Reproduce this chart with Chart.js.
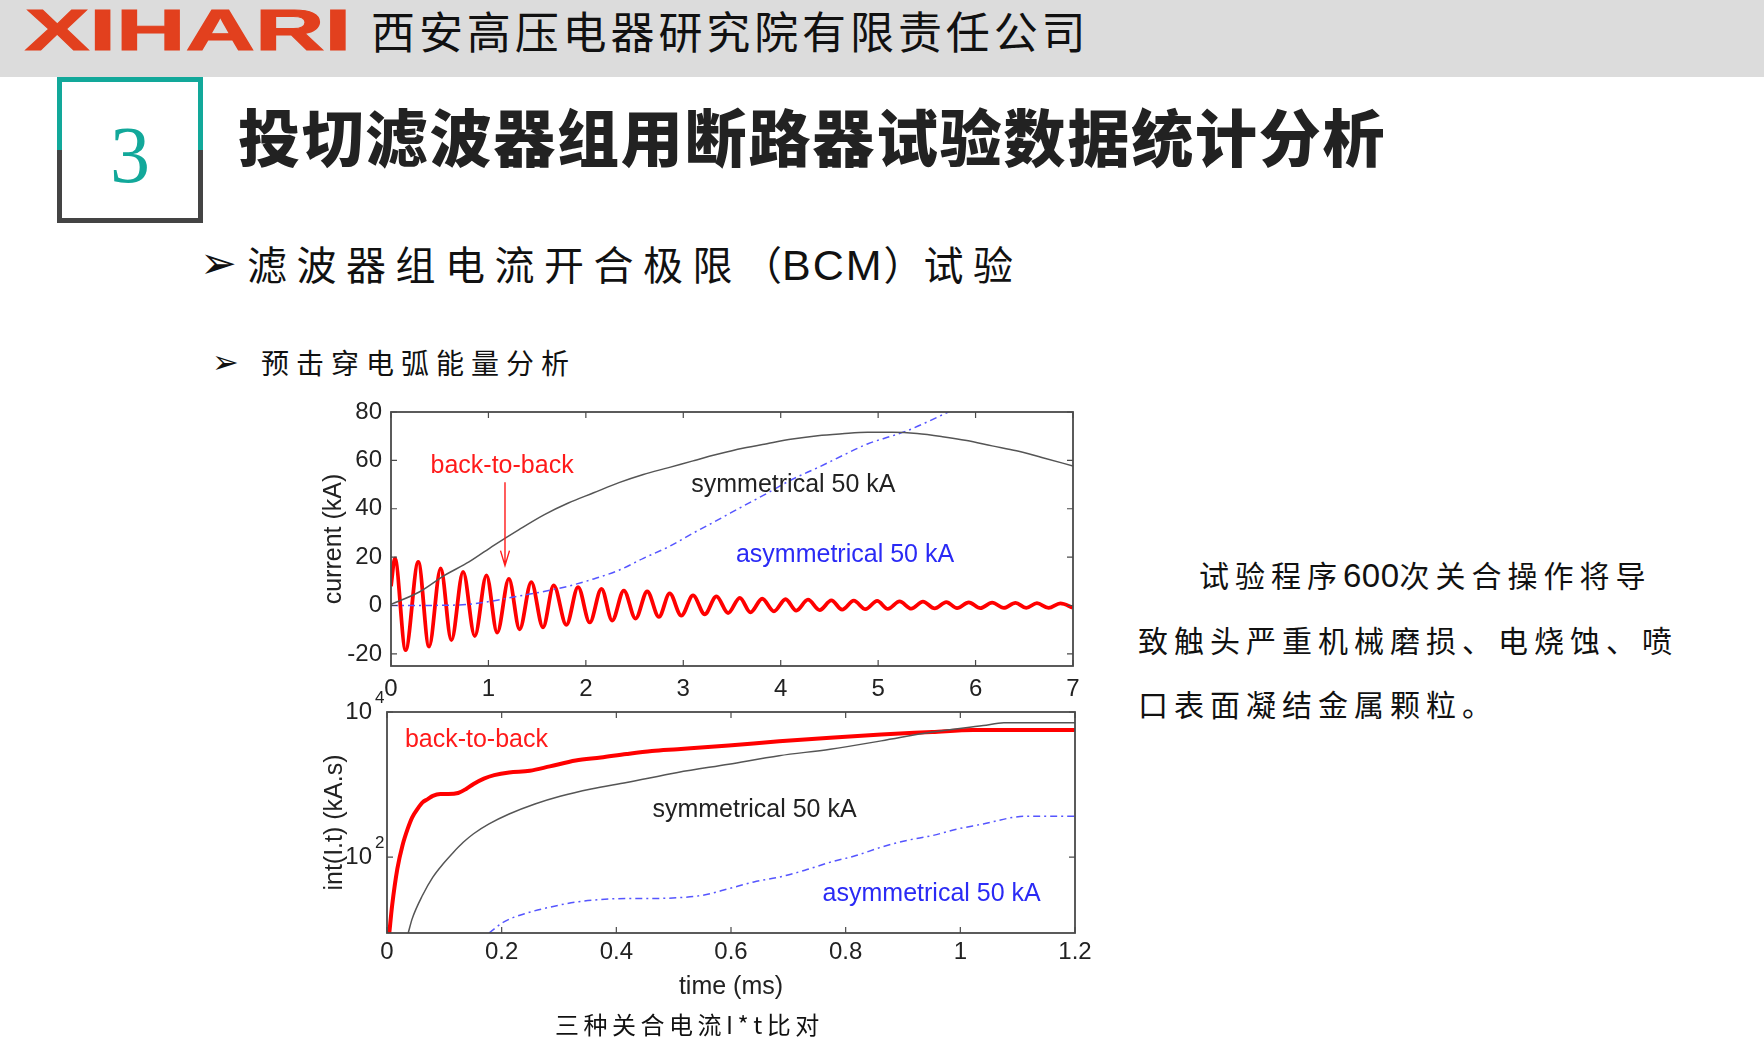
<!DOCTYPE html>
<html><head><meta charset="utf-8">
<script src="https://cdn.jsdelivr.net/npm/chart.js@4.4.1/dist/chart.umd.min.js"></script>
<style>
html,body{margin:0;padding:0;background:#fff;width:1764px;height:1041px;overflow:hidden;position:relative;font-family:"Noto Sans CJK SC",sans-serif;color:#111}
.abs{position:absolute;white-space:nowrap}
#hdr{left:0;top:0;width:1764px;height:77px;background:#dcdcdc}
#logo{left:25px;top:1px;font-family:"Liberation Sans",Arial,sans-serif;font-weight:700;font-size:58px;line-height:58px;color:#e2401e;transform:scaleX(1.66);transform-origin:0 0;letter-spacing:0px;-webkit-text-stroke:1px #e2401e}
#company{left:371px;top:8px;font-size:44px;line-height:44px;letter-spacing:3.9px;color:#111}
#box{left:57px;top:77px;width:146px;height:146px;background:linear-gradient(to bottom,#12a89a 0,#12a89a 73px,#444 73px,#444 146px)}
#boxin{left:62px;top:82px;width:136px;height:136px;background:#fff}
#num{left:62px;top:82px;width:136px;height:146px;text-align:center;font-family:"Liberation Serif",serif;font-size:80px;line-height:146px;color:#12a89a}
#title{left:238px;top:104px;font-size:62px;line-height:62px;font-weight:900;letter-spacing:1.8px;color:#222}
.arr{font-family:"DejaVu Sans",sans-serif}
#sub1a{left:200px;top:238px;font-size:44px;line-height:50px}
#sub1{left:247px;top:243px;font-size:40px;line-height:40px;letter-spacing:9.5px}
#sub1 .par{letter-spacing:0}
#sub1 .lat{font-family:"Liberation Sans",Arial,sans-serif;font-size:43px;letter-spacing:2px}
#sub2a{left:212px;top:343px;font-size:32px;line-height:38px}
#sub2{left:261px;top:348px;font-size:28px;line-height:28px;letter-spacing:7px}
.para{font-size:30px;line-height:30px;letter-spacing:6px}
.para .lat{font-family:"Liberation Sans",Arial,sans-serif;font-size:33px;letter-spacing:0.5px}
#p1{left:1199px;top:559px}
#p2{left:1138px;top:624px}
#p3{left:1138px;top:688px}
#cap{left:555px;top:1012px;font-size:24px;line-height:24px;letter-spacing:4.5px}
#c1{position:absolute;left:290px;top:382px}
#c2{position:absolute;left:290px;top:680px}
</style></head>
<body>
<div id="hdr" class="abs"></div>
<div id="logo" class="abs">XIHARI</div>
<div id="company" class="abs">西安高压电器研究院有限责任公司</div>
<div id="box" class="abs"></div>
<div id="boxin" class="abs"></div>
<div id="num" class="abs">3</div>
<div id="title" class="abs">投切滤波器组用断路器试验数据统计分析</div>
<div id="sub1a" class="abs arr">➢</div>
<div id="sub1" class="abs">滤波器组电流开合极限<span class="par">（</span><span class="lat">BCM</span><span class="par">）</span>试验</div>
<div id="sub2a" class="abs arr">➢</div>
<div id="sub2" class="abs">预击穿电弧能量分析</div>
<div id="p1" class="abs para">试验程序<span class="lat">600</span>次关合操作将导</div>
<div id="p2" class="abs para">致触头严重机械磨损、电烧蚀、喷</div>
<div id="p3" class="abs para">口表面凝结金属颗粒。</div>
<canvas id="c1" width="813" height="323"></canvas>
<canvas id="c2" width="815" height="330"></canvas>
<div id="cap" class="abs">三种关合电流I*t比对</div>
<script>
// ---------- data: top panel (current vs time, ms) ----------
const topXTicks = [0,1,2,3,4,5,6,7];
const topYTicks = [-20,0,20,40,60,80];
const symT = [0,0.29,0.55,0.8,1.06,1.31,1.57,1.82,2.08,2.34,2.59,2.85,3.1,3.36,3.61,3.87,4.12,4.38,4.63,4.89,5.15,5.4,5.66,5.91,6.17,6.42,6.68,7];
const symI = [0.5,5.6,12.5,18,25,31.3,37.5,42.4,46.6,50.8,54.2,57,59.8,62.6,65,67,68.8,70.2,71,71.6,71.6,71.1,69.8,68.2,66,64,61.2,57.7];
const asymT = [0,0.55,0.8,1.06,1.31,1.57,1.82,2.08,2.34,2.59,2.85,3.1,3.36,3.61,3.87,4.12,4.38,4.63,4.89,5.15,5.3,5.5,5.76,5.9];
const asymI = [0,0.1,0.5,2,3.9,5.8,8,11,14.6,19.5,24.3,29.9,35.5,41,46.6,52.2,57,61.9,66.8,70.2,72.3,75.8,80.7,83];
const b2bT = [0,0.04,0.15,0.28,0.39,0.51,0.62,0.74,0.86,0.98,1.09,1.21,1.32,1.44,1.56,1.67,1.80,1.92,2.04,2.16,2.27,2.39,2.51,2.63,2.75,2.86,2.98,3.10,3.22,3.34,3.46,3.58,3.69,3.81,3.93,4.05,4.16,4.28,4.40,4.52,4.63,4.75,4.87,4.99,5.10,5.22,5.34,5.46,5.58,5.70,5.81,5.93,6.05,6.17,6.29,6.41,6.52,6.63,6.75,6.87,7.0];
const b2bI = [8,19.5,-18.4,18,-17,15.3,-14.3,13.9,-12.6,12.5,-11.2,11,-9.8,9.7,-9.0,8.3,-8.0,7.6,-7.0,6.9,-6.2,6.2,-5.4,5.8,-4.7,5.0,-4.2,4.2,-3.6,3.8,-3.1,3.2,-2.8,2.8,-2.4,2.6,-2.1,2.4,-1.9,2.1,-1.7,2.0,-1.5,1.9,-1.4,1.7,-1.3,1.6,-1.2,1.4,-1.1,1.3,-1.1,1.2,-1.0,1.1,-1.0,1.0,-1.0,0.9,-0.9];

// ---------- data: bottom panel (integral of I.t, log) ----------
const botXTicks = [0,0.2,0.4,0.6,0.8,1,1.2];
const botXLabels = ['0','0.2','0.4','0.6','0.8','1','1.2'];
const botYTicks = [100,10000];
const botYExp = ['2','4'];
const b2bIntT = [0.004,0.009,0.018,0.027,0.036,0.044,0.053,0.062,0.071,0.08,0.093,0.107,0.124,0.138,0.151,0.169,0.187,0.213,0.249,0.284,0.329,0.373,0.418,0.462,0.507,0.596,0.684,0.773,0.862,0.951,1.022,1.2];
const b2bIntV = [9,21.7,69,145,245,354,460,569,630,700,740,740,765,870,1020,1210,1350,1470,1550,1780,2140,2360,2640,2900,3070,3450,3950,4430,4900,5300,5650,5650];
const symIntT = [0.037,0.044,0.062,0.08,0.098,0.116,0.133,0.151,0.178,0.213,0.258,0.302,0.356,0.418,0.507,0.596,0.684,0.773,0.862,0.951,1.04,1.076,1.2];
const symIntV = [9,14.2,29.8,53,81,117,160,210,287,393,540,690,870,1070,1470,1910,2500,3070,4000,5300,6500,7100,7100];
const asymIntT = [0.178,0.204,0.24,0.284,0.329,0.373,0.418,0.462,0.507,0.551,0.596,0.64,0.684,0.729,0.773,0.818,0.862,0.907,0.951,0.996,1.04,1.093,1.111,1.2];
const asymIntV = [9,12.8,16.6,20.4,24,26,26.9,26.9,27.6,29.8,36.7,45.5,53,66,85,105,137,170,198,245,287,354,366,366];

const FF = '"Liberation Sans", Arial, sans-serif';
const pts = (t, v) => t.map((x, i) => ({x, y: v[i]}));

function framePlugin(cfg) {
  return {
    id: 'frame_' + cfg.name,
    afterDatasetsDraw(chart) {
      const {ctx, chartArea: {left, right, top, bottom}} = chart;
      const xs = chart.scales.x, ys = chart.scales.y;
      ctx.save();
      ctx.strokeStyle = '#4a4a4a';
      ctx.lineWidth = 1.2;
      ctx.beginPath();
      const L = 6;
      for (const v of cfg.xTicks) { const p = xs.getPixelForValue(v); ctx.moveTo(p, bottom); ctx.lineTo(p, bottom - L); ctx.moveTo(p, top); ctx.lineTo(p, top + L); }
      for (const v of cfg.yTicks) { const p = ys.getPixelForValue(v); ctx.moveTo(left, p); ctx.lineTo(left + L, p); ctx.moveTo(right, p); ctx.lineTo(right - L, p); }
      ctx.stroke();
      ctx.lineWidth = 1.8;
      ctx.strokeRect(left, top, right - left, bottom - top);
      // text annotations
      ctx.font = '25px ' + FF;
      ctx.textAlign = 'center';
      ctx.textBaseline = 'middle';
      for (const a of cfg.notes) {
        ctx.fillStyle = a.color;
        ctx.fillText(a.text, xs.getPixelForValue(a.x), ys.getPixelForValue(a.y));
      }
      if (cfg.arrow) {
        const ax = xs.getPixelForValue(cfg.arrow.x), y0 = ys.getPixelForValue(cfg.arrow.y0), y1 = ys.getPixelForValue(cfg.arrow.y1);
        ctx.strokeStyle = '#ff1a1a'; ctx.lineWidth = 1.4;
        ctx.beginPath(); ctx.moveTo(ax, y0); ctx.lineTo(ax, y1);
        ctx.moveTo(ax - 4.5, y1 - 15); ctx.lineTo(ax, y1); ctx.lineTo(ax + 4.5, y1 - 15);
        ctx.stroke();
      }
      if (cfg.expLabels) {
        ctx.fillStyle = '#222';
        for (let i = 0; i < cfg.yTicks.length; i++) {
          const p = ys.getPixelForValue(cfg.yTicks[i]);
          ctx.font = '24px ' + FF; ctx.textAlign = 'right'; ctx.textBaseline = 'middle';
          ctx.fillText('10', left - 15, p);
          ctx.font = '17px ' + FF; ctx.textAlign = 'left';
          ctx.fillText(cfg.expLabels[i], left - 12, p - 14);
        }
      }
      ctx.restore();
    }
  };
}

const tickFont = {family: FF, size: 24};
const titleFont = {family: FF, size: 25};

new Chart(document.getElementById('c1'), {
  type: 'line',
  data: {datasets: [
    {data: pts(symT, symI), borderColor: '#555', borderWidth: 1.5, pointRadius: 0, cubicInterpolationMode: 'monotone'},
    {data: pts(asymT, asymI), borderColor: '#5555ff', borderWidth: 1.5, borderDash: [7, 4, 2, 4], pointRadius: 0, cubicInterpolationMode: 'monotone'},
    {data: pts(b2bT, b2bI), borderColor: '#ff0000', borderWidth: 3.8, pointRadius: 0, cubicInterpolationMode: 'monotone'}
  ]},
  options: {
    responsive: false, animation: false,
    layout: {padding: {left: 0, right: 30, top: 30, bottom: 0}},
    plugins: {legend: {display: false}, tooltip: {enabled: false}},
    scales: {
      x: {type: 'linear', min: 0, max: 7,
        grid: {display: false, drawTicks: false}, border: {display: false},
        afterBuildTicks: s => { s.ticks = topXTicks.map(v => ({value: v})); },
        afterFit: s => { s.height = 39; },
        ticks: {padding: 9, color: '#222', font: tickFont, maxRotation: 0, autoSkip: false}},
      y: {type: 'linear', min: -25, max: 80,
        grid: {display: false, drawTicks: false}, border: {display: false},
        afterBuildTicks: s => { s.ticks = topYTicks.map(v => ({value: v})); },
        afterFit: s => { s.width = 101; },
        ticks: {padding: 9, color: '#222', font: tickFont, autoSkip: false},
        title: {display: true, text: 'current (kA)', color: '#222', font: titleFont, padding: {top: 29, bottom: 0}}}
    }
  },
  plugins: [framePlugin({name: 'top', xTicks: topXTicks, yTicks: topYTicks,
    notes: [
      {text: 'back-to-back', x: 1.14, y: 57.7, color: '#ff1a1a'},
      {text: 'symmetrical 50 kA', x: 4.13, y: 49.8, color: '#222'},
      {text: 'asymmetrical 50 kA', x: 4.66, y: 20.9, color: '#2a2af5'}
    ],
    arrow: {x: 1.17, y0: 51, y1: 16.5}})]
});

new Chart(document.getElementById('c2'), {
  type: 'line',
  data: {datasets: [
    {data: pts(asymIntT, asymIntV), borderColor: '#5555ff', borderWidth: 1.5, borderDash: [7, 4, 2, 4], pointRadius: 0, cubicInterpolationMode: 'monotone'},
    {data: pts(symIntT, symIntV), borderColor: '#555', borderWidth: 1.5, pointRadius: 0, cubicInterpolationMode: 'monotone'},
    {data: pts(b2bIntT, b2bIntV), borderColor: '#ff0000', borderWidth: 4, pointRadius: 0, cubicInterpolationMode: 'monotone'}
  ]},
  options: {
    responsive: false, animation: false,
    layout: {padding: {left: 0, right: 30, top: 32, bottom: 0}},
    plugins: {legend: {display: false}, tooltip: {enabled: false}},
    scales: {
      x: {type: 'linear', min: 0, max: 1.2,
        grid: {display: false, drawTicks: false}, border: {display: false},
        afterBuildTicks: s => { s.ticks = botXTicks.map(v => ({value: v})); },
        afterFit: s => { s.height = 77; },
        ticks: {padding: 5, color: '#222', font: tickFont, maxRotation: 0, autoSkip: false,
          callback: (v, i) => botXLabels[i]},
        title: {display: true, text: 'time (ms)', color: '#222', font: titleFont, padding: {top: 0, bottom: 8}}},
      y: {type: 'logarithmic', min: 9, max: 10000,
        grid: {display: false, drawTicks: false}, border: {display: false},
        afterBuildTicks: s => { s.ticks = botYTicks.map(v => ({value: v})); },
        afterFit: s => { s.width = 97; },
        ticks: {display: false},
        title: {display: true, text: 'int(I.t) (kA.s)', color: '#222', font: titleFont, padding: {top: 30, bottom: 0}, align: 'center'}}
    }
  },
  plugins: [framePlugin({name: 'bot', xTicks: botXTicks, yTicks: botYTicks, expLabels: botYExp,
    notes: [
      {text: 'back-to-back', x: 0.156, y: 4100, color: '#ff1a1a'},
      {text: 'symmetrical 50 kA', x: 0.641, y: 445, color: '#222'},
      {text: 'asymmetrical 50 kA', x: 0.95, y: 30.5, color: '#2a2af5'}
    ]})]
});
</script>
</body></html>
